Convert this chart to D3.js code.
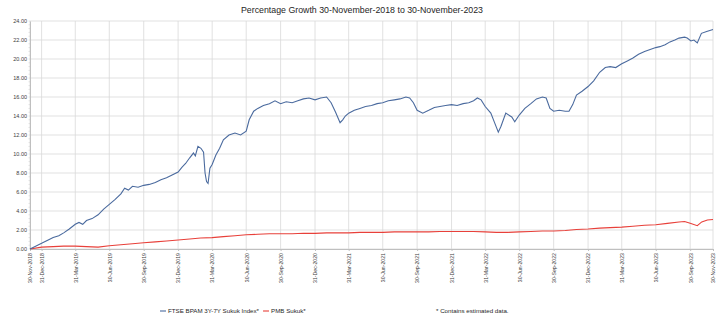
<!DOCTYPE html>
<html><head><meta charset="utf-8">
<script src="https://cdn.jsdelivr.net/npm/d3@7"></script>
<style>body{margin:0;background:#fff}svg{display:block}</style>
</head><body><svg id="c" width="723" height="320"></svg>
<script>
const title = "Percentage Growth 30-November-2018 to 30-November-2023";
const seriesNames = ["FTSE BPAM 3Y-7Y Sukuk Index*", "PMB Sukuk*"];
const note = "*  Contains estimated data.";
const tickDates = ["2018-11-30","2018-12-31","2019-03-31","2019-06-30","2019-09-30","2019-12-31","2020-03-31","2020-06-30","2020-09-30","2020-12-31","2021-03-31","2021-06-30","2021-09-30","2021-12-31","2022-03-31","2022-06-30","2022-09-30","2022-12-31","2023-03-31","2023-06-30","2023-09-30","2023-11-30"];
const yTicks = [0,2,4,6,8,10,12,14,16,18,20,22,24];

const ftseDates = ["2018-11-30","2018-12-15","2018-12-31","2019-01-15","2019-01-31","2019-02-15","2019-02-28","2019-03-15","2019-03-31","2019-04-10","2019-04-20","2019-04-30","2019-05-15","2019-05-31","2019-06-15","2019-06-30","2019-07-15","2019-07-31","2019-08-10","2019-08-20","2019-08-31","2019-09-15","2019-09-30","2019-10-15","2019-10-31","2019-11-15","2019-11-30","2019-12-15","2019-12-31","2020-01-10","2020-01-20","2020-01-31","2020-02-10","2020-02-15","2020-02-22","2020-03-01","2020-03-08","2020-03-12","2020-03-16","2020-03-20","2020-03-25","2020-03-31","2020-04-10","2020-04-20","2020-04-30","2020-05-15","2020-05-31","2020-06-15","2020-06-30","2020-07-08","2020-07-20","2020-07-31","2020-08-15","2020-08-31","2020-09-15","2020-09-30","2020-10-15","2020-10-31","2020-11-15","2020-11-30","2020-12-15","2020-12-31","2021-01-15","2021-01-31","2021-02-12","2021-02-24","2021-03-08","2021-03-15","2021-03-22","2021-03-31","2021-04-15","2021-04-30","2021-05-15","2021-05-31","2021-06-15","2021-06-30","2021-07-15","2021-07-31","2021-08-15","2021-08-31","2021-09-10","2021-09-20","2021-09-30","2021-10-15","2021-10-31","2021-11-15","2021-11-30","2021-12-15","2021-12-31","2022-01-15","2022-01-31","2022-02-15","2022-02-28","2022-03-10","2022-03-20","2022-03-31","2022-04-15","2022-04-25","2022-05-05","2022-05-12","2022-05-25","2022-06-10","2022-06-18","2022-06-30","2022-07-15","2022-07-31","2022-08-15","2022-08-31","2022-09-10","2022-09-20","2022-09-30","2022-10-15","2022-10-31","2022-11-10","2022-11-20","2022-11-30","2022-12-15","2022-12-31","2023-01-15","2023-01-31","2023-02-15","2023-02-28","2023-03-15","2023-03-31","2023-04-15","2023-04-30","2023-05-15","2023-05-31","2023-06-15","2023-06-30","2023-07-11","2023-07-25","2023-08-07","2023-08-20","2023-08-31","2023-09-15","2023-09-22","2023-10-02","2023-10-10","2023-10-19","2023-10-30","2023-11-13","2023-11-30"];
const ftseValues = [0,0.3,0.6,0.9,1.2,1.4,1.7,2.1,2.6,2.8,2.6,3.0,3.2,3.6,4.2,4.7,5.2,5.8,6.4,6.2,6.6,6.5,6.7,6.8,7.0,7.3,7.5,7.8,8.1,8.6,9.0,9.6,10.1,9.8,10.8,10.6,10.2,8.0,7.1,6.9,8.5,8.9,9.9,10.6,11.5,12.0,12.2,12.0,12.4,13.6,14.5,14.8,15.1,15.3,15.6,15.3,15.5,15.4,15.6,15.8,15.9,15.7,15.9,16.0,15.4,14.4,13.3,13.6,14.0,14.3,14.6,14.8,15.0,15.1,15.3,15.4,15.6,15.7,15.8,16.0,15.9,15.4,14.6,14.3,14.6,14.9,15.0,15.1,15.2,15.1,15.3,15.4,15.6,15.9,15.7,15.0,14.3,13.3,12.3,12.9,14.3,13.9,13.4,14.1,14.8,15.3,15.8,16.0,15.9,14.8,14.5,14.6,14.5,14.5,15.2,16.2,16.6,17.1,17.7,18.6,19.1,19.2,19.1,19.5,19.8,20.1,20.5,20.8,21.0,21.2,21.3,21.5,21.8,22.0,22.2,22.3,22.2,21.9,22.0,21.7,22.7,22.9,23.1];

const pmbDates = ["2018-11-30","2018-12-31","2019-01-31","2019-02-28","2019-03-31","2019-04-30","2019-05-31","2019-06-30","2019-07-31","2019-08-31","2019-09-30","2019-10-31","2019-11-30","2019-12-31","2020-01-31","2020-02-29","2020-03-31","2020-04-30","2020-05-31","2020-06-30","2020-07-31","2020-08-31","2020-09-30","2020-10-31","2020-11-30","2020-12-31","2021-01-31","2021-02-28","2021-03-31","2021-04-30","2021-05-31","2021-06-30","2021-07-31","2021-08-31","2021-09-30","2021-10-31","2021-11-30","2021-12-31","2022-01-31","2022-02-28","2022-03-31","2022-04-30","2022-05-31","2022-06-30","2022-07-31","2022-08-31","2022-09-30","2022-10-31","2022-11-30","2022-12-31","2023-01-31","2023-02-28","2023-03-31","2023-04-30","2023-05-31","2023-06-30","2023-07-31","2023-08-31","2023-09-15","2023-09-30","2023-10-19","2023-10-31","2023-11-15","2023-11-30"];
const pmbValues = [0,0.2,0.25,0.3,0.3,0.25,0.2,0.35,0.45,0.55,0.65,0.75,0.85,0.95,1.05,1.15,1.2,1.3,1.4,1.5,1.55,1.6,1.6,1.6,1.65,1.65,1.7,1.7,1.7,1.75,1.75,1.75,1.8,1.8,1.8,1.8,1.85,1.85,1.85,1.85,1.8,1.75,1.75,1.8,1.85,1.9,1.9,1.95,2.05,2.1,2.2,2.25,2.3,2.4,2.5,2.55,2.7,2.85,2.9,2.7,2.45,2.85,3.05,3.1];

const colors = ["#4a6a9e", "#e8403a"];
const parse = d3.timeParse("%Y-%m-%d");
const fmt = d3.timeFormat("%d-%b-%Y");
const svg = d3.select("#c");
const font = "Liberation Sans, Arial, sans-serif";
const m = {l:30, r:713, t:21, b:249};

const x = d3.scaleTime().domain([parse(tickDates[0]), parse(tickDates[tickDates.length-1])]).range([m.l, m.r]);
const y = d3.scaleLinear().domain([0,24]).range([m.b, m.t]);

// grid
svg.append("g").selectAll("line").data(yTicks).join("line")
  .attr("x1", m.l).attr("x2", m.r).attr("y1", d=>y(d)).attr("y2", d=>y(d))
  .attr("stroke", "#d9d9d9").attr("stroke-width", 0.8);
svg.append("g").selectAll("line").data(tickDates).join("line")
  .attr("x1", d=>x(parse(d))).attr("x2", d=>x(parse(d))).attr("y1", m.t).attr("y2", m.b)
  .attr("stroke", "#d9d9d9").attr("stroke-width", 0.8);

// axes
const yAxis = svg.append("g").attr("transform", `translate(${m.l},0)`)
  .call(d3.axisLeft(y).tickValues(yTicks).tickFormat(d3.format(".2f")).tickSize(0).tickPadding(3));
yAxis.select(".domain").attr("stroke", "#bfbfbf");
yAxis.selectAll("text").attr("font-family", font).attr("font-size", 5.5).attr("fill", "#404040");
svg.append("g").selectAll("line").data(d3.range(0, 24.01, 0.4)).join("line")
  .attr("x1", m.l-1.5).attr("x2", m.l).attr("y1", d=>y(d)).attr("y2", d=>y(d))
  .attr("stroke", "#c8c8c8").attr("stroke-width", 0.5);

const xAxis = svg.append("g").attr("transform", `translate(0,${m.b})`)
  .call(d3.axisBottom(x).tickValues(tickDates.map(parse)).tickFormat(fmt).tickSize(2).tickPadding(2));
xAxis.select(".domain").attr("stroke", "#bfbfbf");
xAxis.selectAll(".tick line").attr("stroke", "#bfbfbf");
xAxis.selectAll("text").attr("font-family", font).attr("font-size", 5.2).attr("fill", "#404040")
  .attr("text-anchor", "end").attr("dy", "0.35em")
  .attr("transform", "translate(0,2) rotate(-90)").attr("x", -2).attr("y", 0);

// lines
const line = d3.line().x(d=>x(d[0])).y(d=>y(d[1]));
const s1 = ftseDates.map((d,i)=>[parse(d), ftseValues[i]]);
const s2 = pmbDates.map((d,i)=>[parse(d), pmbValues[i]]);
svg.append("path").datum(s2).attr("d", line).attr("fill","none").attr("stroke", colors[1]).attr("stroke-width", 1.1);
svg.append("path").datum(s1).attr("d", line).attr("fill","none").attr("stroke", colors[0]).attr("stroke-width", 1.1);

// title
svg.append("text").attr("x", 362).attr("y", 13).attr("text-anchor","middle")
  .attr("font-family", font).attr("font-size", 8.8).attr("fill", "#262626").text(title);

// legend
const lg = svg.append("g").attr("font-family", font).attr("font-size", 6.2).attr("fill", "#262626");
let lx = 160;
seriesNames.forEach((n,i)=>{
  lg.append("line").attr("x1", lx).attr("x2", lx+6).attr("y1", 311).attr("y2", 311)
    .attr("stroke", colors[i]).attr("stroke-width", 1.1);
  const t = lg.append("text").attr("x", lx+8).attr("y", 313.2).text(n);
  lx = lx + 8 + t.node().getComputedTextLength() + 4;
});
lg.append("text").attr("x", 436).attr("y", 313.2).text(note);
</script></body></html>
